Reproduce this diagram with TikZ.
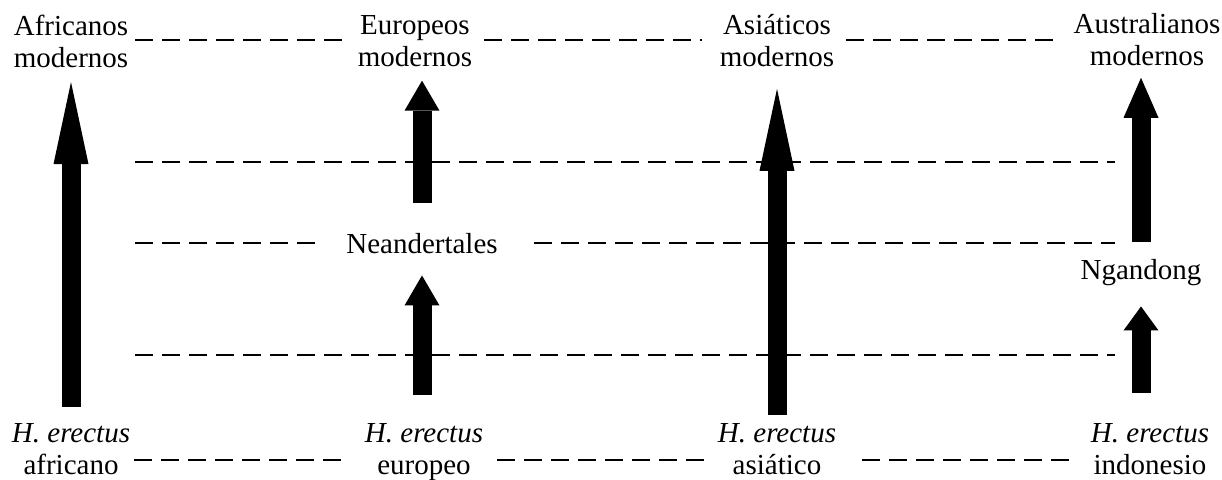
\documentclass[tikz,border=0pt]{standalone}
\usepackage{fontspec}
\setmainfont{Liberation Serif}
\usetikzlibrary{arrows.meta}
\usetikzlibrary{calc}

\begin{document}
\begin{tikzpicture}[x=1pt,y=-1pt,
  lbl/.style={align=center,inner sep=2pt,font=\fontsize{29}{32}\selectfont},
  dsh/.style={line width=1.6pt,dash pattern=on 18pt off 9pt},
  evo/.style={line width=19pt,-{Triangle[length=#1,width=35pt,line width=0pt]}}]
\useasboundingbox (0,0) rectangle (1222,479);
% especies actuales
\node[lbl,anchor=north] (afrM) at (71,13) {Africanos\\modernos};
\node[lbl,anchor=north] (eurM) at (415,13) {Europeos\\modernos};
\node[lbl,anchor=north] (asiM) at (777,12) {Asiáticos\\modernos};
\node[lbl,anchor=north] (ausM) at (1147,11) {Australianos\\modernos};
% formas intermedias
\node[lbl,anchor=base] (nea) at (422,253) {Neandertales};
\node[lbl,anchor=base] (ngd) at (1141,279) {Ngandong};
% H. erectus
\node[lbl,anchor=north] (afrE) at (71,421) {\textit{H. erectus}\\africano};
\node[lbl,anchor=north] (eurE) at (424,421) {\textit{H. erectus}\\europeo};
\node[lbl,anchor=north] (asiE) at (777,421) {\textit{H. erectus}\\asiático};
\node[lbl,anchor=north] (indE) at (1150,421) {\textit{H. erectus}\\indonesio};
\coordinate (l1) at (135,162); \coordinate (r1) at (1115,162);
\coordinate (l2) at (135,243); \coordinate (r2) at (1115,243);
\coordinate (l3) at (135,355); \coordinate (r3) at (1115,355);
% lineas horizontales
\draw[dsh,shorten <=5pt,shorten >=10pt] ([yshift=-27pt]afrM.north east) -- ([yshift=-27pt]eurM.north west);
\draw[dsh,shorten <=10pt,shorten >=16pt] ([yshift=-27pt]eurM.north east) -- ([yshift=-28pt]asiM.north west);
\draw[dsh,shorten <=10pt,shorten >=18pt] ([yshift=-28pt]asiM.north east) -- ([yshift=-29pt]ausM.north west);
\draw[dsh] (l1) -- (r1);
\draw[dsh,shorten >=28pt] (l2) -- (l2 -| nea.west);
\draw[dsh,shorten <=34pt] (nea.east |- r2) -- (r2);
\draw[dsh] (l3) -- (r3);
\draw[dsh,shorten <=2pt,shorten >=19pt] ([yshift=-39pt]afrE.north east) -- ([yshift=-39pt]eurE.north west);
\draw[dsh,shorten <=12pt,shorten >=4pt] ([yshift=-39pt]eurE.north east) -- ([yshift=-39pt]asiE.north west);
\draw[dsh,shorten <=24pt,shorten >=13pt] ([yshift=-39pt]asiE.north east) -- ([yshift=-39pt]indE.north west);
% flechas
\draw[evo=82pt,shorten <=14pt,shorten >=12pt] (afrE.north) -- (afrE.north |- afrM.south);
\draw[evo=30pt,shorten <=28pt,shorten >=12pt] (nea.north) -- (nea.north |- eurM.south);
\draw[evo=30pt,shorten <=26pt,shorten >=20pt] (nea.south |- eurE.north) -- (nea.south);
\draw[evo=82pt,shorten <=6pt,shorten >=20pt] (asiE.north) -- (asiE.north |- asiM.south);
\draw[evo=40pt,shorten <=15pt,shorten >=10pt] (ngd.north) -- (ngd.north |- ausM.south);
\draw[evo=24pt,shorten <=28pt,shorten >=19pt] (ngd.south |- indE.north) -- (ngd.south);
\end{tikzpicture}
\end{document}
